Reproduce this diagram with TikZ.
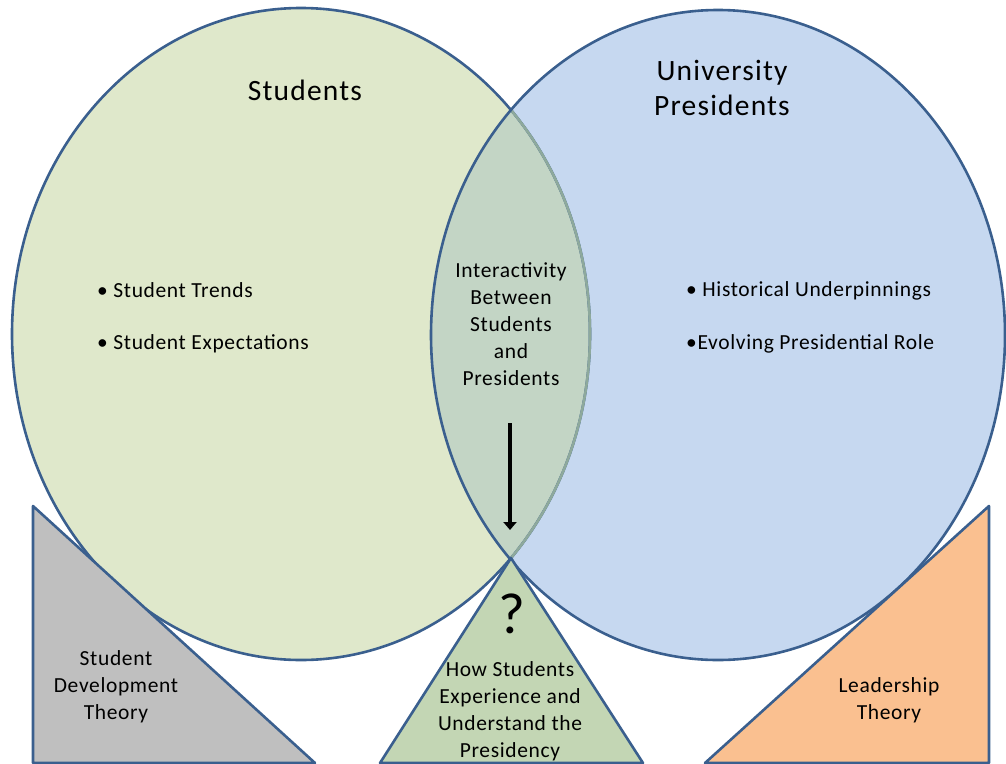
\documentclass[tikz,border=0pt]{standalone}
\usepackage{fontspec}
\setmainfont{Carlito}
\newfontfamily\spacedfont[LetterSpace=3]{Carlito}
\newfontfamily\titlefont[LetterSpace=4]{Carlito}
\usetikzlibrary{arrows.meta}
\definecolor{stugreen}{HTML}{DFE8CB}
\definecolor{presblue}{HTML}{C6D8F0}
\definecolor{lensgreen}{HTML}{C3D5C5}
\definecolor{lensline}{HTML}{8EA99C}
\definecolor{edgeblue}{HTML}{3A5F8E}
\definecolor{theorygray}{HTML}{BFBFBF}
\definecolor{howgreen}{HTML}{C3D6B4}
\definecolor{leadorange}{HTML}{FAC090}
\begin{document}
\begin{tikzpicture}[x=1pt, y=-1pt,
  body/.style={font=\spacedfont\fontsize{21.5}{27}\selectfont, align=center, inner sep=0pt},
  title/.style={font=\titlefont\fontsize{29.5}{35}\selectfont, align=center, inner sep=0pt},
  item/.style={font=\spacedfont\fontsize{21.5}{27}\selectfont, anchor=west, inner sep=0pt},
  outline/.style={draw=edgeblue, line width=2.6pt, line join=round}]
\useasboundingbox (0,0) rectangle (1006,763);
% circles
\fill [stugreen] (301,334) ellipse [x radius=289pt, y radius=326pt];
\fill [presblue] (718,335) ellipse [x radius=287pt, y radius=325pt];
\begin{scope}
\clip (301,334) ellipse [x radius=289pt, y radius=326pt];
\fill [lensgreen] (718,335) ellipse [x radius=287pt, y radius=325pt];
\end{scope}
\draw [outline] (301,334) ellipse [x radius=289pt, y radius=326pt];
\begin{scope}
\clip (718,335) ellipse [x radius=287pt, y radius=325pt];
\draw [draw=lensline, line width=2.6pt] (301,334) ellipse [x radius=289pt, y radius=326pt];
\end{scope}
\draw [outline] (718,335) ellipse [x radius=287pt, y radius=325pt];
% triangles
\draw [outline, fill=theorygray] (33,506) -- (33,763) -- (315,763) -- cycle;
\draw [outline, fill=howgreen] (511,558) -- (643,763) -- (380,763) -- cycle;
\draw [outline, fill=leadorange] (989,506) -- (989,763) -- (705,763) -- cycle;
% texts
\node [title] (students) at (305,90) {Students};
\node [title] (presidents) at (722,88) {University\\Presidents};
\node [item] (trends) at (97,290) {• Student Trends};
\node [item] (expect) at (97,344) {• Student Expectations};
\node [item] (history) at (686,291) {• Historical Underpinnings};
\node [item] (role) at (686,344) {•Evolving Presidential Role};
\node [body] (interact) at (511,324) {Interactivity\\ Between\\Students\\and\\Presidents};
\node [font=\fontsize{58}{60}\selectfont, inner sep=0pt] (quest) at (512,614) {?};
\node [body] (sdt) at (116,687) {Student\\Development\\Theory};
\node [body] (how) at (510,711.5) {How Students\\Experience and\\Understand the\\Presidency};
\node [body] (lead) at (889,700.5) {Leadership\\Theory};
% arrow
\coordinate (arrtop) at (510,423);
\coordinate (arrtip) at (510,530);
\draw [line width=4.5pt, -{Triangle[width=13pt,length=8pt]}] (arrtop) -- (arrtip);
\end{tikzpicture}
\end{document}
